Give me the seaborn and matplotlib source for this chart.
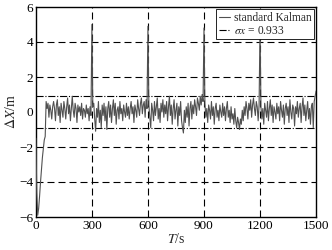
import numpy as np
import pandas as pd
import seaborn as sns
import matplotlib.pyplot as plt

# time axis, 5 s steps
t = list(range(0, 1500, 5)) + [1500]

dx = [
    -1.5, -4.6, -5.9, -5.5, -4.8, -4.0, -3.3, -2.6, -2.1, -1.6, -1.4, 0.6, 0.2, 0.5, -0.3, 0.4, 0.1, -0.4, 0.3, 0.6,
    0.2, -0.5, 0.4, 0.7, -0.2, 0.3, -0.6, 0.5, 0.1, -0.3, 0.6, 0.2, -0.4, 0.3, 0.8, -0.1, 0.4, -0.5, 0.2, 0.9,
    0.1, -0.3, 0.5, 0.2, -0.6, 0.4, 0.0, 0.3, -0.2, 0.5, -0.4, 0.2, 0.1, -0.3, 0.4, -0.1, 0.2, -0.5, 0.3, -0.2,
    5.0, 0.3, 0.5, -0.4, -1.1, 0.2, -0.3, 0.6, -0.6, 0.1, -0.9, 0.4, -0.2, 0.5, -0.5, 0.3, -1.0, 0.2, 0.6, -0.3,
    0.4, -0.6, 0.2, 0.7, -0.2, 0.5, -0.7, 0.1, 0.3, -0.4, 0.6, -0.1, 0.2, -0.5, 0.4, 0.0, -0.3, 0.5, -0.2, 0.3,
    -0.4, 0.2, 0.6, -0.1, 0.3, -0.6, 0.4, 0.1, -0.3, 0.7, 0.2, -0.2, 0.5, 0.8, -0.1, 0.4, 0.6, -0.3, 0.7, 0.2,
    4.9, 0.4, -0.3, -0.9, 0.5, 0.1, -0.5, 0.6, -0.2, 0.3, 0.8, -0.4, 0.2, -0.6, 0.5, 0.0, 0.7, -0.3, 0.4, -0.1,
    0.6, -0.5, 0.3, 0.9, -0.2, 0.4, -0.7, 0.2, 0.7, -0.4, 0.1, 0.5, -0.8, 0.3, -0.2, 0.6, -0.5, -0.9, -1.2, 0.1,
    -0.6, 0.3, -0.3, 0.5, -0.8, 0.2, 0.6, -0.4, 0.4, -0.1, 0.7, 0.3, -0.2, 0.8, 0.5, 0.1, 0.9, 0.4, 1.0, 0.6,
    4.8, 0.5, -0.3, 0.2, -0.6, 0.4, 0.1, -0.4, 0.6, -0.2, 0.3, -0.7, 0.2, 0.5, -0.3, 0.1, -0.5, 0.4, 0.0, -0.3,
    0.5, -0.2, 0.3, -0.5, 0.2, 0.6, -0.3, 0.1, -0.6, 0.3, -0.4, -0.1, -0.7, 0.2, -0.5, -0.9, -0.3, -0.6, -1.0, -0.4,
    -0.7, 0.1, -0.5, 0.3, -0.2, 0.6, 0.2, -0.4, 0.5, 0.1, 0.7, -0.3, 0.4, 0.8, 0.2, -0.2, 0.6, 0.3, -0.5, 0.4,
    4.9, 0.3, -0.4, 0.2, -0.7, 0.5, 0.1, -0.3, 0.6, -0.5, 0.2, 0.7, -0.2, 0.4, -0.6, 0.3, 0.0, -0.4, 0.5, -0.1,
    0.3, -0.5, 0.6, 0.1, -0.3, 0.4, -0.7, 0.2, 0.5, -0.2, 0.3, -0.6, 0.7, 0.0, -0.4, 0.4, 0.2, -0.8, 0.3, -0.1,
    0.6, -0.3, 0.2, 0.5, -0.6, 0.3, 0.8, -0.2, 0.4, -0.5, 0.1, 0.6, -0.4, 0.2, -0.7, 0.3, 0.5, -0.9, 0.6, 0.9,
    1.2,
]

sigma_x = 0.933
x_ticks = [0, 300, 600, 900, 1200, 1500]
y_ticks = [-6, -4, -2, 0, 2, 4, 6]

sns.set_style("white")
plt.rcParams['font.family'] = ['Liberation Serif', 'DejaVu Serif']
plt.rcParams['mathtext.fontset'] = 'stix'

df = pd.DataFrame({'t': t, 'dx': dx})

fig = plt.figure(figsize=(3.32, 2.5), dpi=100)
ax = fig.add_axes([0.108, 0.132, 0.844, 0.84])

# dashed grid
for yv in [-4, -2, 2, 4]:
    ax.axhline(yv, color='black', ls=(0, (6.3, 3.6)), lw=0.8, zorder=1)
for xv in [300, 600, 900, 1200]:
    ax.axvline(xv, color='black', ls=(0, (6.3, 3.6)), lw=0.8, zorder=1)

sns.lineplot(data=df, x='t', y='dx', ax=ax, color='#505050', lw=0.8,
             label='standard Kalman', zorder=3)
ax.axhline(sigma_x, color='black', ls='-.', lw=0.8, label=r'$\sigma x$ = 0.933', zorder=2)
ax.axhline(-sigma_x, color='black', ls='-.', lw=0.8, zorder=2)

ax.set_xlim(0, 1500)
ax.set_ylim(-6, 6)
ax.set_xticks(x_ticks)
ax.set_yticks(y_ticks)
ax.set_yticklabels(['\u22126', '\u22124', '\u22122', '0', '2', '4', '6'])
ax.tick_params(direction='in', length=3, width=0.8, labelsize=9.5, pad=2, colors='black')
ax.set_xlabel(r'$T$/s', fontsize=10, labelpad=0)
ax.set_ylabel(r'$\Delta X$/m', fontsize=10, labelpad=1)
for s in ax.spines.values():
    s.set_color('black')
    s.set_linewidth(1.0)

leg = ax.legend(loc='upper right', fontsize=8.3, frameon=True, fancybox=False,
                edgecolor='black', framealpha=1, borderpad=0.2, handlelength=1.0,
                handletextpad=0.3, labelspacing=0.1, borderaxespad=0.2)
leg.get_frame().set_linewidth(0.6)

fig.savefig('out.png', dpi=100)
